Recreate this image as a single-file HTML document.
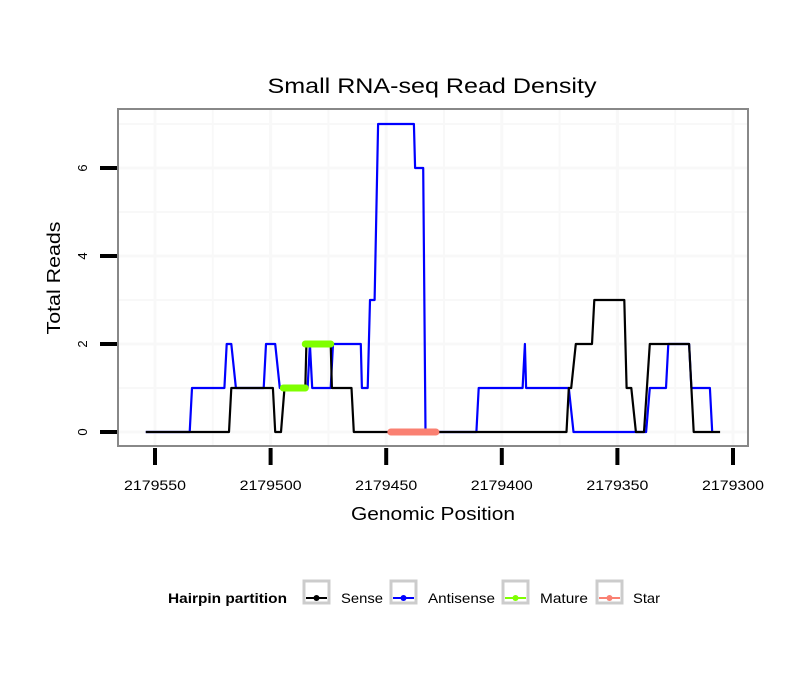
<!DOCTYPE html>
<html><head><meta charset="utf-8"><style>
body{margin:0;background:#fff;}
svg text{font-family:"Liberation Sans",sans-serif;}
</style></head><body>
<svg id="chart" width="810" height="690" xmlns="http://www.w3.org/2000/svg">
<rect width="810" height="690" fill="#fff"/>
<text x="432" y="93" font-size="21" text-anchor="middle" textLength="329" lengthAdjust="spacingAndGlyphs">Small RNA-seq Read Density</text>
<g id="grid"></g>
<g id="series"></g>
<rect x="118" y="109" width="630" height="337" fill="none" stroke="#888" stroke-width="2"/>
<g id="axes"></g>
<text x="433" y="520" font-size="18" text-anchor="middle" textLength="164" lengthAdjust="spacingAndGlyphs">Genomic Position</text>
<text transform="translate(60,278) rotate(-90)" font-size="18" text-anchor="middle" textLength="113" lengthAdjust="spacingAndGlyphs">Total Reads</text>
<g>
<text x="168" y="603" font-size="14" font-weight="bold" textLength="119" lengthAdjust="spacingAndGlyphs">Hairpin partition</text>
<g><rect x="304" y="581" width="25" height="22" fill="#fff" stroke="#ccc" stroke-width="3"/><line x1="306" y1="598" x2="327" y2="598" stroke="#000" stroke-width="2"/><circle cx="316.5" cy="598" r="3" fill="#000"/><text x="341" y="603" font-size="14" textLength="42" lengthAdjust="spacingAndGlyphs">Sense</text></g>
<g><rect x="391" y="581" width="25" height="22" fill="#fff" stroke="#ccc" stroke-width="3"/><line x1="393" y1="598" x2="414" y2="598" stroke="#00f" stroke-width="2"/><circle cx="403.5" cy="598" r="3" fill="#00f"/><text x="428" y="603" font-size="14" textLength="67" lengthAdjust="spacingAndGlyphs">Antisense</text></g>
<g><rect x="503" y="581" width="25" height="22" fill="#fff" stroke="#ccc" stroke-width="3"/><line x1="505" y1="598" x2="526" y2="598" stroke="#7fff00" stroke-width="2"/><circle cx="515.5" cy="598" r="3" fill="#7fff00"/><text x="540" y="603" font-size="14" textLength="48" lengthAdjust="spacingAndGlyphs">Mature</text></g>
<g><rect x="597" y="581" width="25" height="22" fill="#fff" stroke="#ccc" stroke-width="3"/><line x1="599" y1="598" x2="620" y2="598" stroke="#fa8072" stroke-width="2"/><circle cx="609.5" cy="598" r="3" fill="#fa8072"/><text x="633" y="603" font-size="14" textLength="27" lengthAdjust="spacingAndGlyphs">Star</text></g>
</g>
</svg>
<script>
const xTicks = [2179550, 2179500, 2179450, 2179400, 2179350, 2179300];
const yTicks = [0, 2, 4, 6];
const senseX = [2179554,2179518,2179517,2179499,2179498,2179495.5,2179494,2179485,2179484.5,2179474,2179473.5,2179465,2179464,2179372,2179371,2179370,2179368,2179361,2179360,2179347,2179346,2179344,2179342,2179338.5,2179336,2179319,2179317,2179305.6];
const senseY = [0,0,1,1,0,0,1,1,2,2,1,1,0,0,1,1,2,2,3,3,1,1,0,0,2,2,0,0];
const antiX = [2179554,2179535,2179534,2179520,2179519,2179517,2179515,2179503,2179502,2179498,2179496,2179484,2179483,2179482,2179474,2179473,2179461,2179460.5,2179458,2179457,2179455,2179453.5,2179438,2179437.5,2179434,2179433,2179411,2179410,2179391,2179390,2179389.5,2179371,2179369,2179337.6,2179336,2179329,2179328,2179319,2179318,2179310,2179309];
const antiY = [0,0,1,1,2,2,1,1,2,2,1,1,2,1,1,2,2,1,1,3,3,7,7,6,6,0,0,1,1,2,1,1,0,0,1,1,2,2,1,1,0];
const matureX = [[2179494.5,2179485],[2179485,2179474]];
const matureY = [1,2];
const starX = [[2179448,2179428.5]];
const starY = [0];

const X0=155, X1=733, P0=2179550, P1=2179300;
const sx = p => X0 + (p-P0)*(X1-X0)/(P1-P0);
const sy = v => 432 - v*44;
const NS="http://www.w3.org/2000/svg";
function mk(parent, tag, attrs){const e=document.createElementNS(NS,tag);for(const k in attrs)e.setAttribute(k,attrs[k]);parent.appendChild(e);return e;}
const grid=document.getElementById('grid'), axes=document.getElementById('axes'), ser=document.getElementById('series');
for(let v=0; v<=7; v++){
  const g=mk(grid,'line',{x1:118,x2:748,y1:sy(v),y2:sy(v),stroke:'#f8f8f8','stroke-width':v%2?2:3});
  
  
}
for(let i=0;i<xTicks.length;i++){
  const xs=[sx(xTicks[i])]; if(i<xTicks.length-1) xs.push(sx((xTicks[i]+xTicks[i+1])/2));
  xs.forEach((x,j)=>{const g=mk(grid,'line',{x1:x,x2:x,y1:109,y2:446,stroke:'#f8f8f8','stroke-width':j?2:3});
  
  });
}
yTicks.forEach(v=>{
  const t=mk(axes,'line',{x1:100,x2:117,y1:sy(v),y2:sy(v),stroke:'#000','stroke-width':4});
  
  
  const l=mk(axes,'text',{transform:`translate(87,${sy(v)}) rotate(-90)`,'font-size':13,'text-anchor':'middle'});
  l.textContent=v;
  
  
});
xTicks.forEach(p=>{
  const t=mk(axes,'line',{x1:sx(p),x2:sx(p),y1:448,y2:465,stroke:'#000','stroke-width':4});
  
  
  const l=mk(axes,'text',{x:sx(p),y:490,'font-size':14,'text-anchor':'middle',textLength:62,lengthAdjust:'spacingAndGlyphs'});
  l.textContent=p;
  
  
});
function path(xs,ys){return xs.map((p,i)=>(i?'L':'M')+sx(p).toFixed(1)+' '+sy(ys[i]).toFixed(1)).join(' ');}
const a=mk(ser,'path',{d:path(antiX,antiY),fill:'none',stroke:'#00f','stroke-width':2.2,'stroke-linejoin':'round'});


const s=mk(ser,'path',{d:path(senseX,senseY),fill:'none',stroke:'#000','stroke-width':2.2,'stroke-linejoin':'round'});


matureX.forEach((r,i)=>{
  const m=mk(ser,'line',{x1:sx(r[0]),x2:sx(r[1]),y1:sy(matureY[i]),y2:sy(matureY[i]),stroke:'#7fff00','stroke-width':7,'stroke-linecap':'round'});
  
  
});
starX.forEach((r,i)=>{
  const m=mk(ser,'line',{x1:sx(r[0]),x2:sx(r[1]),y1:sy(starY[i]),y2:sy(starY[i]),stroke:'#fa8072','stroke-width':7,'stroke-linecap':'round'});
  
  
});
</script>
</body></html>
